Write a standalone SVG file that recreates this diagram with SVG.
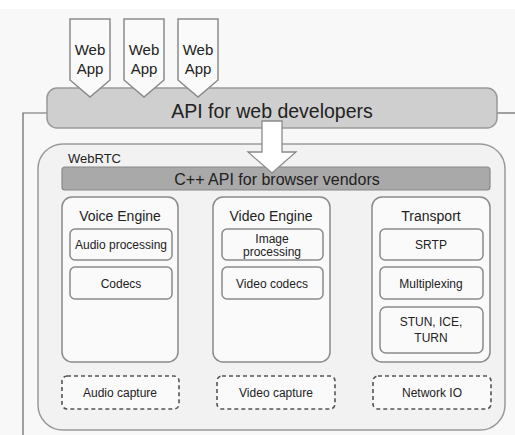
<svg xmlns="http://www.w3.org/2000/svg" width="515" height="435" viewBox="0 0 515 435">
<style>
text{font-family:"Liberation Sans",Arial,sans-serif;fill:#222;text-anchor:middle}
.box{fill:#fafafa;stroke:#8a8a8a;stroke-width:1.5}
.sub{fill:#fafafa;stroke:#8a8a8a;stroke-width:1.5}
.dash{fill:#fafafa;stroke:#555;stroke-width:1.6;stroke-dasharray:4 3}
.line{fill:none;stroke:#666;stroke-width:1.2}
.t12{font-size:12px}
.t14{font-size:14px}
.t15{font-size:15px}
</style>
<rect x="0" y="0" width="515" height="435" fill="#f8f8f8"/>
<rect x="0" y="0" width="515" height="9" fill="#ffffff"/>
<g id="connectors">
<path class="line" d="M23 435 V113 H47"/>
<path class="line" d="M497 113 H515"/>
</g>
<g id="api-web">
<rect x="47" y="88" width="450" height="40" rx="10" fill="#cfcfcf" stroke="#999" stroke-width="1.5"/>
<text x="272" y="118" style="font-size:19.5px">API for web developers</text>
</g>
<g id="webapp1">
<path d="M70 19 H110 V80 L90 97 L70 80 Z" fill="#fafafa" stroke="#8a8a8a" stroke-width="1.5"/>
<text class="t15" x="90" y="55">Web</text><text class="t15" x="90" y="74">App</text>
</g>
<g id="webapp2">
<path d="M124 19 H164 V80 L144 97 L124 80 Z" fill="#fafafa" stroke="#8a8a8a" stroke-width="1.5"/>
<text class="t15" x="144" y="55">Web</text><text class="t15" x="144" y="74">App</text>
</g>
<g id="webapp3">
<path d="M178 19 H218 V80 L198 97 L178 80 Z" fill="#fafafa" stroke="#8a8a8a" stroke-width="1.5"/>
<text class="t15" x="198" y="55">Web</text><text class="t15" x="198" y="74">App</text>
</g>
<g id="webrtc">
<rect x="38" y="144" width="467" height="286" rx="25" fill="#f2f2f2" stroke="#999" stroke-width="1.5"/>
<text x="68" y="163" style="font-size:13px;text-anchor:start">WebRTC</text>
</g>
<g id="cpp-api">
<rect x="62" y="167" width="428" height="23" rx="3" fill="#a9a9a9" stroke="#888" stroke-width="1.2"/>
<text x="277" y="185" style="font-size:16px">C++ API for browser vendors</text>
</g>
<g id="arrow">
<path d="M262 121 H282 V152 H296 L272 173 L248 152 H262 Z" fill="#ffffff" stroke="#8a8a8a" stroke-width="1.3"/>
</g>
<g id="voice-engine">
<rect class="box" x="62" y="197" width="116" height="165" rx="10"/>
<text class="t14" x="120" y="221">Voice Engine</text>
</g>
<g id="audio-processing">
<rect class="sub" x="70" y="229" width="102" height="31" rx="5"/>
<text class="t12" x="121" y="249">Audio processing</text>
</g>
<g id="codecs">
<rect class="sub" x="70" y="267" width="102" height="32" rx="5"/>
<text class="t12" x="121" y="288">Codecs</text>
</g>
<g id="video-engine">
<rect class="box" x="213" y="197" width="117" height="165" rx="10"/>
<text class="t14" x="271" y="221">Video Engine</text>
</g>
<g id="image-processing">
<rect class="sub" x="222" y="229" width="101" height="31" rx="5"/>
<text class="t12" x="272" y="243">Image</text>
<text class="t12" x="272" y="256">processing</text>
</g>
<g id="video-codecs">
<rect class="sub" x="222" y="267" width="101" height="32" rx="5"/>
<text class="t12" x="272" y="288">Video codecs</text>
</g>
<g id="transport">
<rect class="box" x="372" y="197" width="118" height="165" rx="10"/>
<text class="t14" x="431" y="221">Transport</text>
</g>
<g id="srtp">
<rect class="sub" x="380" y="229" width="103" height="31" rx="5"/>
<text class="t12" x="431" y="249">SRTP</text>
</g>
<g id="multiplexing">
<rect class="sub" x="380" y="267" width="103" height="32" rx="5"/>
<text class="t12" x="431" y="288">Multiplexing</text>
</g>
<g id="stun-ice-turn">
<rect class="sub" x="380" y="307" width="103" height="46" rx="6"/>
<text class="t12" x="431" y="326">STUN, ICE,</text>
<text class="t12" x="431" y="342">TURN</text>
</g>
<g id="audio-capture">
<rect class="dash" x="62" y="376" width="117" height="33" rx="5"/>
<text class="t12" x="120" y="397">Audio capture</text>
</g>
<g id="video-capture">
<rect class="dash" x="217" y="376" width="118" height="33" rx="5"/>
<text class="t12" x="276" y="397">Video capture</text>
</g>
<g id="network-io">
<rect class="dash" x="373" y="376" width="118" height="33" rx="5"/>
<text class="t12" x="432" y="397">Network IO</text>
</g>
</svg>
